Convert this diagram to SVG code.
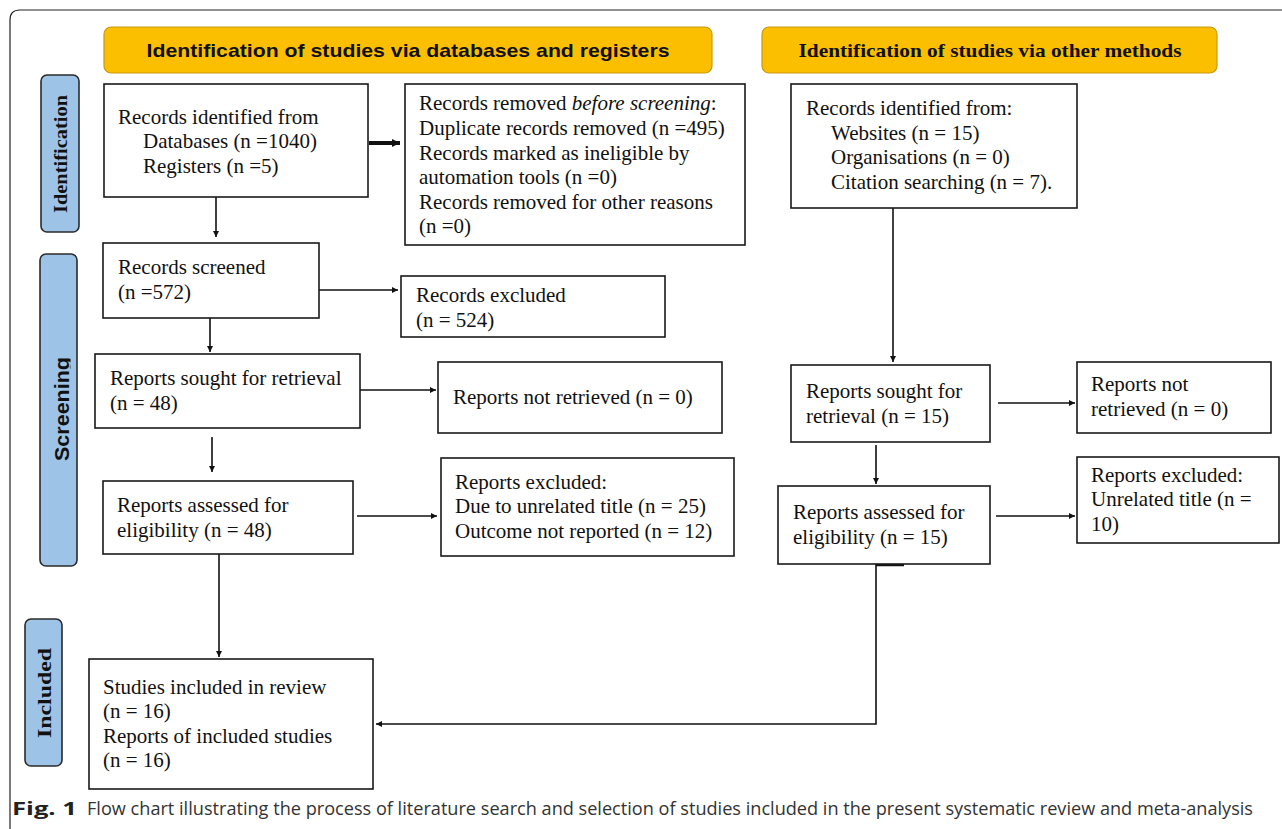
<svg xmlns="http://www.w3.org/2000/svg" width="1282" height="829" viewBox="0 0 1282 829">
<defs>
<style>
.box{fill:#fff;stroke:#1a1a1a;stroke-width:1.6}
.t{font-family:"Liberation Serif","Times New Roman",serif;font-size:21px;fill:#111}
.hdr{fill:#FBBF00;stroke:#C99A10;stroke-width:1.2}
.side{fill:#9DC3E6;stroke:#2b2b2b;stroke-width:1.6}
.conn{fill:none;stroke:#111;stroke-width:1.6}
</style>
<marker id="ah" viewBox="0 0 10 10" refX="10" refY="5" markerWidth="6" markerHeight="6" markerUnits="userSpaceOnUse" orient="auto">
<path d="M0,0 L10,5 L0,10 z" fill="#111"/>
</marker>
<marker id="ah2" viewBox="0 0 10 10" refX="10" refY="5" markerWidth="8" markerHeight="8" markerUnits="userSpaceOnUse" orient="auto">
<path d="M0,0 L10,5 L0,10 z" fill="#111"/>
</marker>
<clipPath id="scrClip"><rect x="30" y="250" width="40.5" height="320"/></clipPath>
</defs>
<rect width="1282" height="829" fill="#fff"/>
<path d="M10,829 V20 Q10,10 20,10 H1282" fill="none" stroke="#222" stroke-width="1.2"/>

<g id="header-db">
<rect class="hdr" x="104" y="27" width="608" height="46" rx="7"/>
<text x="408" y="57" text-anchor="middle" font-family="Liberation Sans,Arial,sans-serif" font-weight="bold" font-size="19px" textLength="523" lengthAdjust="spacingAndGlyphs" fill="#111">Identification of studies via databases and registers</text>
</g>
<g id="header-other">
<rect class="hdr" x="762" y="27" width="455" height="46" rx="7"/>
<text x="990" y="57" text-anchor="middle" font-family="Liberation Serif,'Times New Roman',serif" font-weight="bold" font-size="19px" textLength="383" lengthAdjust="spacingAndGlyphs" fill="#111">Identification of studies via other methods</text>
</g>

<g id="side-identification">
<rect class="side" x="41" y="75" width="38" height="157" rx="6"/>
<text transform="translate(67,154) rotate(-90)" text-anchor="middle" font-family="Liberation Serif,serif" font-weight="bold" font-size="18px" textLength="118" lengthAdjust="spacingAndGlyphs" fill="#111">Identification</text>
</g>
<g id="side-screening">
<rect class="side" x="40" y="254" width="37" height="312" rx="6"/>
<g clip-path="url(#scrClip)">
<text transform="translate(69,409) rotate(-90)" text-anchor="middle" font-family="Liberation Sans,Arial,sans-serif" font-weight="bold" font-size="21px" textLength="104" lengthAdjust="spacingAndGlyphs" fill="#111">Screening</text>
</g>
</g>
<g id="side-included">
<rect class="side" x="25" y="619" width="37" height="147" rx="6"/>
<text transform="translate(51,693) rotate(-90)" text-anchor="middle" font-family="Liberation Serif,serif" font-weight="bold" font-size="18px" textLength="90" lengthAdjust="spacingAndGlyphs" fill="#111">Included</text>
</g>

<g id="connectors">
<line x1="369" y1="143" x2="400" y2="143" stroke="#111" stroke-width="4" marker-end="url(#ah2)"/>
<line class="conn" x1="216" y1="197" x2="216" y2="237" marker-end="url(#ah)"/>
<line class="conn" x1="319" y1="290" x2="398" y2="290" marker-end="url(#ah)"/>
<line class="conn" x1="210" y1="318" x2="210" y2="352" marker-end="url(#ah)"/>
<line class="conn" x1="360" y1="390" x2="436" y2="390" marker-end="url(#ah)"/>
<line class="conn" x1="212" y1="437" x2="212" y2="472" marker-end="url(#ah)"/>
<line class="conn" x1="357" y1="516" x2="437" y2="516" marker-end="url(#ah)"/>
<line class="conn" x1="219" y1="554" x2="219" y2="657" marker-end="url(#ah)"/>
<line class="conn" x1="893" y1="208" x2="893" y2="362" marker-end="url(#ah)"/>
<line class="conn" x1="998" y1="403" x2="1075" y2="403" marker-end="url(#ah)"/>
<line class="conn" x1="876" y1="445" x2="876" y2="484" marker-end="url(#ah)"/>
<line class="conn" x1="996" y1="516" x2="1075" y2="516" marker-end="url(#ah)"/>
<path class="conn" d="M876,564 V724 H376" marker-end="url(#ah)"/>
<line x1="876" y1="565" x2="904" y2="565" stroke="#111" stroke-width="2.5"/>
</g>

<g id="n-records-identified">
<rect class="box" x="104" y="84" width="264" height="113"/>
<text class="t" x="118" y="124">Records identified from</text>
<text class="t" x="143" y="148">Databases (n =1040)</text>
<text class="t" x="143" y="173">Registers (n =5)</text>
</g>
<g id="n-records-removed">
<rect class="box" x="405" y="84" width="340" height="161"/>
<text class="t" x="419" y="110">Records removed <tspan font-style="italic">before screening</tspan>:</text>
<text class="t" x="419" y="135">Duplicate records removed (n =495)</text>
<text class="t" x="419" y="160">Records marked as ineligible by</text>
<text class="t" x="419" y="184">automation tools (n =0)</text>
<text class="t" x="419" y="209">Records removed for other reasons</text>
<text class="t" x="419" y="233">(n =0)</text>
</g>
<g id="n-other-identified">
<rect class="box" x="791" y="84" width="286" height="124"/>
<text class="t" x="806" y="115">Records identified from:</text>
<text class="t" x="831" y="140">Websites (n = 15)</text>
<text class="t" x="831" y="164">Organisations (n = 0)</text>
<text class="t" x="831" y="189">Citation searching (n = 7).</text>
</g>
<g id="n-screened">
<rect class="box" x="103" y="243" width="216" height="75"/>
<text class="t" x="118" y="274">Records screened</text>
<text class="t" x="118" y="299">(n =572)</text>
</g>
<g id="n-excluded">
<rect class="box" x="401" y="276" width="264" height="61"/>
<text class="t" x="416" y="302">Records excluded</text>
<text class="t" x="416" y="327">(n = 524)</text>
</g>
<g id="n-sought">
<rect class="box" x="95" y="354" width="265" height="74"/>
<text class="t" x="110" y="385">Reports sought for retrieval</text>
<text class="t" x="110" y="410">(n = 48)</text>
</g>
<g id="n-not-retrieved">
<rect class="box" x="438" y="362" width="284" height="71"/>
<text class="t" x="453" y="404">Reports not retrieved (n = 0)</text>
</g>
<g id="n-assessed">
<rect class="box" x="103" y="481" width="250" height="73"/>
<text class="t" x="117" y="512">Reports assessed for</text>
<text class="t" x="117" y="537">eligibility (n = 48)</text>
</g>
<g id="n-reports-excluded">
<rect class="box" x="441" y="458" width="293" height="98"/>
<text class="t" x="455" y="489">Reports excluded:</text>
<text class="t" x="455" y="513">Due to unrelated title (n = 25)</text>
<text class="t" x="455" y="538">Outcome not reported (n = 12)</text>
</g>
<g id="n-included">
<rect class="box" x="89" y="659" width="284" height="130"/>
<text class="t" x="103" y="694">Studies included in review</text>
<text class="t" x="103" y="718">(n = 16)</text>
<text class="t" x="103" y="743">Reports of included studies</text>
<text class="t" x="103" y="767">(n = 16)</text>
</g>
<g id="n-other-sought">
<rect class="box" x="791" y="365" width="199" height="77"/>
<text class="t" x="806" y="398">Reports sought for</text>
<text class="t" x="806" y="423">retrieval (n = 15)</text>
</g>
<g id="n-other-not-retrieved">
<rect class="box" x="1077" y="362" width="194" height="71"/>
<text class="t" x="1091" y="391">Reports not</text>
<text class="t" x="1091" y="416">retrieved (n = 0)</text>
</g>
<g id="n-other-assessed">
<rect class="box" x="778" y="486" width="212" height="78"/>
<text class="t" x="793" y="519">Reports assessed for</text>
<text class="t" x="793" y="544">eligibility (n = 15)</text>
</g>
<g id="n-other-excluded">
<rect class="box" x="1077" y="457" width="202" height="86"/>
<text class="t" x="1091" y="482">Reports excluded:</text>
<text class="t" x="1091" y="506">Unrelated title (n =</text>
<text class="t" x="1091" y="531">10)</text>
</g>

<g id="caption">
<text x="12" y="815" font-family="'Open Sans','Noto Sans',sans-serif" font-size="18px" font-weight="bold" fill="#222" textLength="65" lengthAdjust="spacingAndGlyphs">Fig. 1</text>
<text x="87" y="815" font-family="'Open Sans','Noto Sans',sans-serif" font-size="18px" fill="#333" textLength="1166" lengthAdjust="spacingAndGlyphs">Flow chart illustrating the process of literature search and selection of studies included in the present systematic review and meta-analysis</text>
</g>
</svg>
